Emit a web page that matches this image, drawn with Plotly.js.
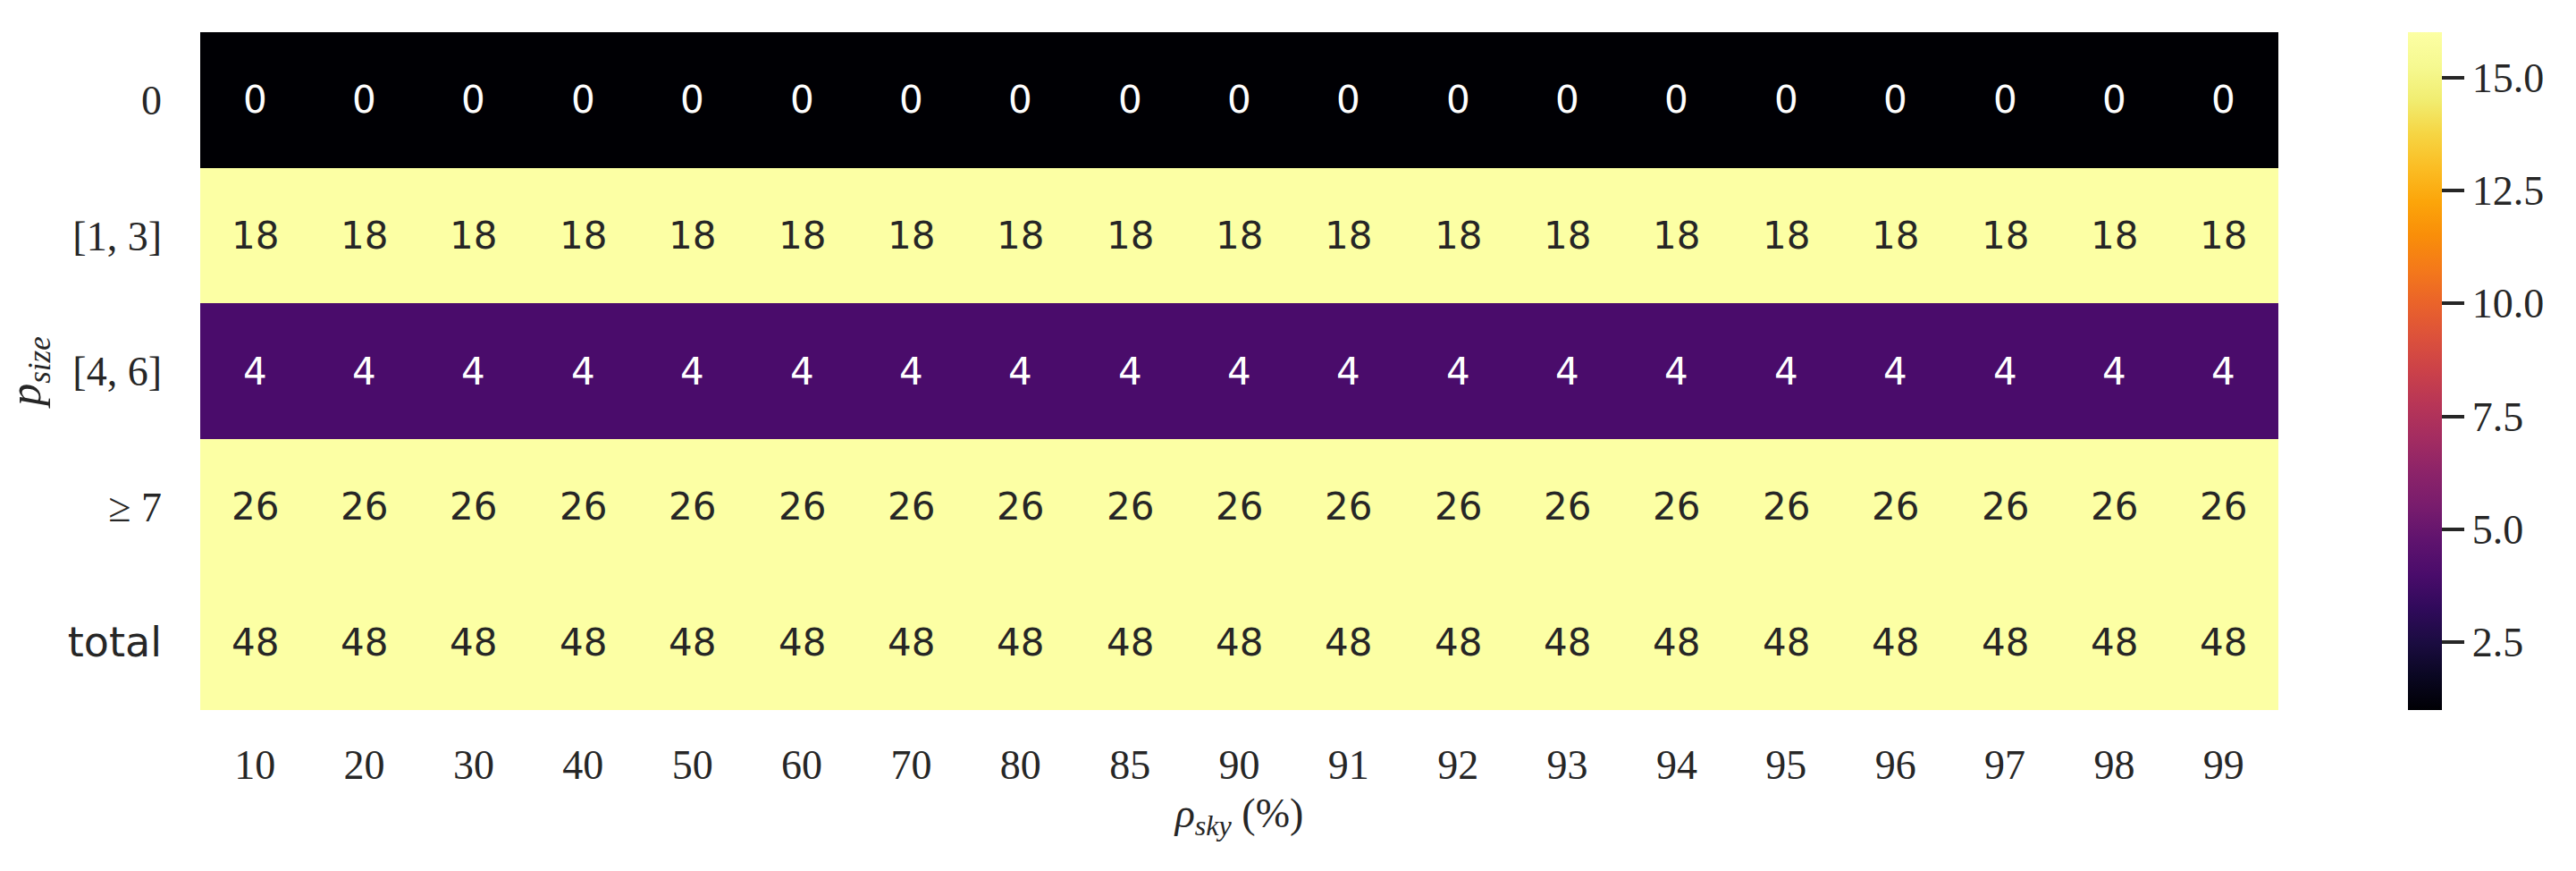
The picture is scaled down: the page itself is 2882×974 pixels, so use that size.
<!DOCTYPE html>
<html>
<head>
<meta charset="utf-8">
<script src="https://cdn.plot.ly/plotly-3.0.1.min.js"></script>
<style>html,body{margin:0;padding:0;background:#fff;}</style>
</head>
<body>
<div id="chart" style="width:2882px;height:974px;"></div>
<script>
// Columns: sky ratio (%)
const skyRatio = ['10','20','30','40','50','60','70','80','85','90','91','92','93','94','95','96','97','98','99'];
// Rows: p_size bins
const sizeBins = ['0', '[1,3]', '[4,6]', '≥7', 'total'];
const sizeBinLabels = ['0', '[1, 3]', '[4, 6]', '≥ 7', '<span style="font-family:\'DejaVu Sans\',sans-serif">total</span>'];
// Counts per row (constant across all sky ratios)
const row0   = [0,0,0,0,0,0,0,0,0,0,0,0,0,0,0,0,0,0,0];
const row1_3 = [18,18,18,18,18,18,18,18,18,18,18,18,18,18,18,18,18,18,18];
const row4_6 = [4,4,4,4,4,4,4,4,4,4,4,4,4,4,4,4,4,4,4];
const row7   = [26,26,26,26,26,26,26,26,26,26,26,26,26,26,26,26,26,26,26];
const rowTot = [48,48,48,48,48,48,48,48,48,48,48,48,48,48,48,48,48,48,48];
const colorMin = 1, colorMax = 16;
const cbTicks = [2.5, 5.0, 7.5, 10.0, 12.5, 15.0];

const z = [row0, row1_3, row4_6, row7, rowTot];
const xIdx = skyRatio.map((_, j) => j);
const yIdx = sizeBins.map((_, i) => i);

const inferno = [
  [0.0,'#000004'],[0.05,'#0a0722'],[0.1,'#1b0c41'],[0.15,'#300a5b'],[0.2,'#4a0c6b'],
  [0.25,'#5f136e'],[0.3,'#781c6d'],[0.35,'#8c2369'],[0.4,'#a32c61'],[0.45,'#b73557'],
  [0.5,'#cb4149'],[0.55,'#dc513b'],[0.6,'#ea632a'],[0.65,'#f4791a'],[0.7,'#f98e09'],
  [0.75,'#fca50a'],[0.8,'#fbbd24'],[0.85,'#f6d543'],[0.9,'#f1ed71'],[0.95,'#f6f991'],[1.0,'#fcffa4']
];

const annotations = [];
z.forEach((row, i) => {
  row.forEach((v, j) => {
    const frac = (Math.min(Math.max(v, colorMin), colorMax) - colorMin) / (colorMax - colorMin);
    annotations.push({
      x: xIdx[j], y: yIdx[i], xref: 'x', yref: 'y',
      text: String(v), showarrow: false,
      font: {family: 'DejaVu Sans, sans-serif', size: 42, color: frac < 0.5 ? '#ffffff' : '#262626'}
    });
  });
});

const trace = {
  type: 'heatmap',
  x: xIdx, y: yIdx, z: z,
  zmin: colorMin, zmax: colorMax,
  colorscale: inferno,
  xgap: 0, ygap: 0,
  hoverinfo: 'skip',
  colorbar: {
    x: 1.0624, xanchor: 'left', xpad: 0,
    y: 0.5, yanchor: 'middle', len: 1.0, lenmode: 'fraction', ypad: 0,
    thickness: 38, thicknessmode: 'pixels',
    outlinewidth: 0,
    tickmode: 'array', tickvals: cbTicks, ticktext: cbTicks.map(v => v.toFixed(1)),
    ticks: 'outside', ticklen: 25, tickwidth: 4, tickcolor: '#262626',
    ticklabelstandoff: 12,
    tickfont: {family: 'Liberation Serif, serif', size: 46, color: '#262626'}
  }
};

const layout = {
  width: 2882, height: 974,
  margin: {l: 224, r: 333, t: 36, b: 180},
  paper_bgcolor: '#ffffff', plot_bgcolor: '#ffffff',
  showlegend: false,
  xaxis: {
    range: [-0.5, skyRatio.length - 0.5], showgrid: false, zeroline: false, showline: false,
    tickmode: 'array', tickvals: xIdx, ticktext: skyRatio,
    ticks: '', ticklabelstandoff: 30,
    tickfont: {family: 'Liberation Serif, serif', size: 46, color: '#262626'},
    title: {text: '<i>ρ</i><sub><i>sky</i></sub> (%)', standoff: 12,
            font: {family: 'Liberation Serif, serif', size: 46, color: '#262626'}},
    automargin: false
  },
  yaxis: {
    range: [sizeBins.length - 0.5, -0.5], showgrid: false, zeroline: false, showline: false,
    ticks: '', ticklabelstandoff: 42,
    tickmode: 'array', tickvals: yIdx, ticktext: sizeBinLabels,
    tickfont: {family: 'Liberation Serif, serif', size: 46, color: '#262626'},
    title: {text: '<i>p</i><sub><i>size</i></sub>', standoff: 20,
            font: {family: 'Liberation Serif, serif', size: 50, color: '#262626'}},
    automargin: false
  },
  annotations: annotations
};

Plotly.newPlot('chart', [trace], layout, {staticPlot: true, displayModeBar: false});
</script>
</body>
</html>
